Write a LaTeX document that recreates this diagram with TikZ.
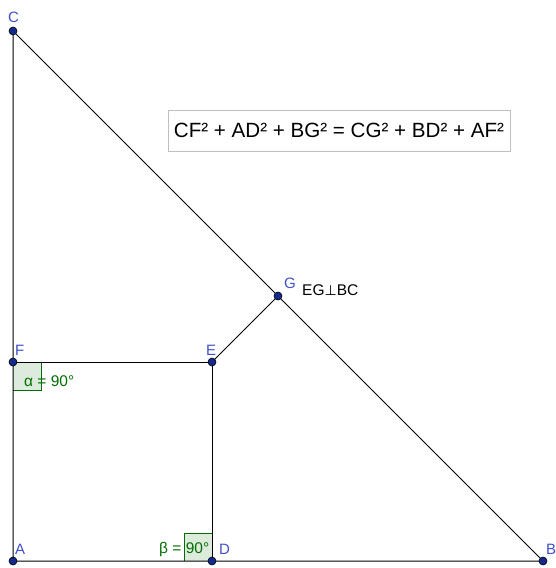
\documentclass[tikz,border=0pt]{standalone}
\usepackage{fontspec}
\setmainfont{Liberation Sans}
\newfontfamily\djv{DejaVu Sans}
\definecolor{ptblue}{RGB}{21,41,140}
\definecolor{lblblue}{RGB}{64,80,200}
\definecolor{anggreen}{RGB}{0,110,0}
\definecolor{angfill}{RGB}{220,235,220}
\tikzset{
  pt/.style={circle,fill=ptblue,draw=black,line width=0.6pt,inner sep=0pt,minimum size=8pt},
  lbl/.style={text=lblblue,font=\fontsize{15}{17}\selectfont,inner sep=0pt},
  seg/.style={line width=1pt,black},
  angbox/.style={draw=anggreen,fill=angfill,line width=0.8pt},
  angtxt/.style={text=anggreen,font=\fontsize{15.5}{17}\selectfont,inner sep=0pt}
}
\begin{document}
\begin{tikzpicture}[x=1pt,y=-1pt]
\useasboundingbox (0,0) rectangle (555,568);
\coordinate (A) at (13,561);
\coordinate (B) at (543,561);
\coordinate (C) at (13,31);
\coordinate (D) at (212,561);
\coordinate (E) at (212,362);
\coordinate (F) at (13,362);
\coordinate (G) at (278,296);
% angle markers
\fill[angfill] (F) rectangle (41,390);
\fill[angfill] (184,533) rectangle (D);
\draw[anggreen,line width=0.8pt] (F) ++(28,0) -- ++(0,28) -- ++(-28,0);
\draw[anggreen,line width=0.8pt] (D) ++(-28,0) -- ++(0,-28) -- ++(28,0);
% segments
\draw[seg] (A) -- (B) -- (C) -- cycle;
\draw[seg] (F) -- (E) -- (D);
\draw[seg] (E) -- (G);
% points
\foreach \p in {A,B,C,D,E,F,G} \node[pt] (n\p) at (\p) {};
% labels
\node[lbl,anchor=base west] (lA) at (15,554) {A};
\node[lbl,anchor=base west] (lB) at (546,554) {B};
\node[lbl,anchor=base west] (lC) at (8,22) {C};
\node[lbl,anchor=base west] (lD) at (219,554) {D};
\node[lbl,anchor=base west] (lE) at (206,355) {E};
\node[lbl,anchor=base west] (lF) at (15,355) {F};
\node[lbl,anchor=base west] (lG) at (284,288) {G};
% angle texts
\node[angtxt,anchor=base west] (ta) at (24,386) {α = 90°};
\node[angtxt,anchor=base west] (tb) at (159,553) {β = 90°};
% EG perp BC
\node[anchor=base west,inner sep=0pt,font=\fontsize{15.5}{17}\selectfont] (perp) at (302,295) {EG{\djv\fontsize{14}{17}\selectfont ⊥}BC};
% formula box
\node[draw=black!25,line width=0.8pt,fill=white,inner sep=0pt,minimum width=342pt,minimum height=41pt,font=\fontsize{20.6}{23}\selectfont] (fm) at (339,130.5) {CF² + AD² + BG² = CG² + BD² + AF²};
\end{tikzpicture}
\end{document}
